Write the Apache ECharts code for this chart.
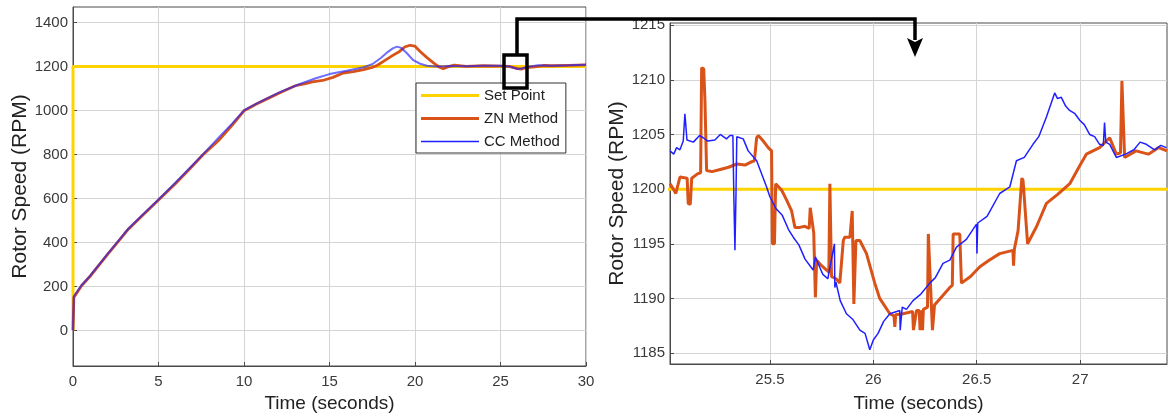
<!DOCTYPE html>
<html>
<head>
<meta charset="utf-8">
<script src="https://cdn.jsdelivr.net/npm/echarts@6/dist/echarts.min.js"></script>
<style>
  html, body { margin: 0; padding: 0; background: #fff; }
  #chart { width: 1168px; height: 419px; }
</style>
</head>
<body>
<div id="chart"></div>
<script>
// ---- data ----
var seriesNames = ['Set Point', 'ZN Method', 'CC Method'];

// full run (left panel)
var setTimeL = [0, 0, 30];
var setSpeedL = [0, 1200, 1200];

var znTimeL = [0, 0.05, 0.5, 1, 2, 3, 3.25, 4, 5, 6, 7, 7.6, 8.5, 9.3, 10, 10.7, 11.5, 12.1, 13, 13.6, 14, 14.6,
    15.2, 15.8, 16.4, 17, 17.5, 17.8, 18.2, 18.7, 19.1, 19.4, 19.7, 20, 20.3, 20.7, 21.1, 21.4, 21.65, 22, 22.3,
    23, 24, 25, 25.5, 26, 26.2, 26.5, 27, 27.5, 28, 29, 30];
var znSpeedL = [0, 150, 203, 246, 343, 438, 461, 518, 593, 668, 748, 798, 862, 932, 998, 1028, 1058, 1080, 1112, 1122, 1130, 1136,
    1150, 1170, 1176, 1185, 1195, 1205, 1225, 1250, 1268, 1288, 1296, 1292, 1268, 1240, 1215, 1198, 1190, 1200, 1206,
    1200, 1203, 1201, 1200, 1190, 1188, 1194, 1198, 1204, 1203, 1205, 1207];

var ccTimeL = [0, 0.05, 0.5, 1, 2, 3, 3.25, 4, 5, 6, 7, 7.6, 8.5, 9.3, 10, 10.7, 11.5, 12.1, 13.3, 14.2, 15, 16, 17,
    17.5, 18, 18.4, 18.7, 18.95, 19.2, 19.5, 19.9, 20.3, 20.7, 21.2, 22, 23, 24, 25, 25.5, 26, 26.3, 26.7, 27.2,
    28, 29, 30];
var ccSpeedL = [0, 155, 205, 248, 345, 440, 463, 520, 595, 672, 752, 800, 875, 940, 1000, 1030, 1060, 1083, 1121, 1146, 1165, 1180, 1196,
    1210, 1238, 1265, 1282, 1290, 1284, 1262, 1228, 1212, 1203, 1200, 1202, 1201, 1203, 1203, 1200, 1188, 1192, 1200, 1205,
    1203, 1205, 1208];

// zoomed window (right panel)
var setTimeR = [25, 27.5];
var setSpeedR = [1200, 1200];

var znTimeR = [25.017, 25.033, 25.045, 25.065, 25.1, 25.105, 25.115, 25.122, 25.15, 25.165, 25.17, 25.18, 25.186, 25.19,
    25.194, 25.22, 25.26, 25.3, 25.34, 25.38, 25.41, 25.425, 25.436, 25.444, 25.468, 25.492, 25.508, 25.512, 25.522,
    25.528, 25.535, 25.557, 25.581, 25.605, 25.621, 25.645, 25.669, 25.69, 25.695, 25.7, 25.712, 25.72, 25.726,
    25.75, 25.774, 25.785, 25.79, 25.798, 25.82, 25.838, 25.855, 25.862, 25.887, 25.898, 25.902, 25.906, 25.91,
    25.916, 25.935, 25.967, 26.007, 26.031, 26.08, 26.1, 26.104, 26.108, 26.144, 26.19, 26.194, 26.209, 26.222,
    26.226, 26.232, 26.238, 26.242, 26.25, 26.262, 26.266, 26.272, 26.286, 26.29, 26.296, 26.305, 26.37, 26.382,
    26.386, 26.418, 26.426, 26.47, 26.515, 26.56, 26.611, 26.675, 26.678, 26.682, 26.7, 26.718, 26.724, 26.746,
    26.79, 26.837, 26.89, 26.95, 27.0, 27.03, 27.094, 27.143, 27.175, 27.195, 27.202, 27.215, 27.27, 27.33, 27.38, 27.42];
var znSpeedR = [1200.5, 1200.0, 1199.6, 1201.1, 1201.0, 1198.7, 1198.6, 1201.0, 1201.4, 1201.5, 1211.1, 1211.0, 1208.1, 1208.0,
    1201.7, 1201.6, 1201.8, 1202.0, 1202.3, 1202.2, 1202.5, 1202.6, 1204.7, 1204.9, 1204.4, 1203.8, 1203.5, 1195.0, 1195.0,
    1200.5, 1200.5, 1199.9, 1199.0, 1198.0, 1196.5, 1196.5, 1196.6, 1196.4, 1198.3, 1198.3, 1196.0, 1190.1, 1193.5,
    1193.0, 1192.6, 1192.4, 1200.5, 1192.0, 1191.8, 1191.4, 1195.3, 1195.6, 1195.6, 1198.0, 1198.0, 1189.5, 1189.5,
    1195.3, 1195.3, 1194.1, 1191.4, 1190.0, 1188.6, 1188.4, 1187.4, 1188.5, 1188.6, 1188.8, 1187.1, 1188.9, 1188.9,
    1187.1, 1188.9, 1187.1, 1189.0, 1189.1, 1189.2, 1195.9, 1195.8, 1187.1, 1187.1, 1189.4, 1189.5, 1191.0, 1191.2,
    1195.9, 1195.9, 1191.4, 1192.0, 1192.9, 1193.5, 1194.1, 1194.4, 1193.0, 1194.5, 1196.2, 1201.0, 1200.8, 1195.0,
    1196.6, 1198.7, 1199.5, 1200.5, 1202.2, 1203.2, 1203.8, 1204.7, 1203.2, 1203.3, 1209.9, 1202.9, 1203.5, 1203.2, 1203.8, 1203.5];

var ccTimeR = [25.017, 25.035, 25.049, 25.065, 25.081, 25.089, 25.092, 25.099, 25.13, 25.16, 25.178, 25.2, 25.234, 25.26,
    25.29, 25.307, 25.321, 25.326, 25.331, 25.336, 25.34, 25.371, 25.395, 25.436, 25.484, 25.5, 25.53, 25.56, 25.59,
    25.613, 25.64, 25.67, 25.709, 25.72, 25.742, 25.756, 25.78, 25.812, 25.814, 25.819, 25.84, 25.87, 25.9, 25.935,
    25.96, 25.983, 26.0, 26.023, 26.05, 26.08, 26.128, 26.13, 26.14, 26.16, 26.192, 26.23, 26.273, 26.3, 26.337,
    26.37, 26.402, 26.45, 26.499, 26.501, 26.505, 26.55, 26.611, 26.66, 26.692, 26.73, 26.772, 26.8, 26.837, 26.877,
    26.89, 26.909, 26.93, 26.949, 26.975, 26.998, 27.02, 27.046, 27.07, 27.094, 27.112, 27.118, 27.124, 27.143,
    27.175, 27.22, 27.26, 27.29, 27.32, 27.36, 27.39, 27.417];
var ccSpeedR = [1203.5, 1203.2, 1203.8, 1203.6, 1204.4, 1206.9, 1206.2, 1204.5, 1204.3, 1204.9, 1204.7, 1204.4, 1204.5, 1205.0,
    1204.6, 1204.9, 1204.9, 1199.0, 1194.4, 1199.5, 1204.8, 1204.6, 1203.5, 1202.6, 1200.2, 1199.3, 1198.2, 1197.6, 1196.3,
    1195.6, 1194.9, 1193.6, 1192.6, 1193.8, 1192.8, 1192.2, 1191.8, 1195.0, 1191.0, 1191.5, 1189.8, 1188.6, 1188.1, 1187.1,
    1186.8, 1185.3, 1186.2, 1186.8, 1187.9, 1188.6, 1188.9, 1187.1, 1189.2, 1189.0, 1189.8, 1190.4, 1191.4, 1191.9, 1193.2,
    1193.5, 1194.7, 1195.4, 1196.8, 1194.1, 1196.9, 1197.5, 1199.6, 1200.2, 1202.6, 1202.9, 1204.1, 1204.8, 1206.6, 1208.8,
    1208.3, 1208.4, 1207.6, 1207.2, 1206.9, 1206.3, 1205.9, 1205.0, 1204.8, 1204.1, 1204.0, 1206.1, 1204.3, 1204.1,
    1202.9, 1203.2, 1203.6, 1204.3, 1204.1, 1203.6, 1204.0, 1203.8];

var leftYTicks = [0, 200, 400, 600, 800, 1000, 1200, 1400];
var rightXTicks = [25.5, 26, 26.5, 27];
var rightYTicks = [1185, 1190, 1195, 1200, 1205, 1210, 1215];

// ---- chart ----
var chart = echarts.init(document.getElementById('chart'));

var colors = ['#FFD200', '#D95319', '#2020FF'];
var fontFamily = '"Liberation Sans", Arial, sans-serif';
var plain = function (v) { return String(v); };

function label(extra) {
    return Object.assign({ color: '#3a3a3a', fontSize: 15, fontFamily: fontFamily, formatter: plain }, extra);
}
function ticks(extra) {
    return Object.assign({ show: true, inside: true, length: 4, lineStyle: { color: '#4a4a4a' } }, extra);
}
function zip(t, v) {
    return t.map(function (x, i) { return [x, v[i]]; });
}

var common = {
    type: 'value',
    nameLocation: 'middle',
    axisLine: { show: true, onZero: false, lineStyle: { color: '#4a4a4a', width: 1 } },
    splitLine: { show: true, lineStyle: { color: '#d4d4d4', width: 1 } }
};

var option = {
    animation: false,
    backgroundColor: '#fff',
    textStyle: { fontFamily: fontFamily },
    grid: [
        { left: 73, top: 7, width: 513, height: 359, show: true, borderColor: '#4a4a4a', borderWidth: 1, backgroundColor: 'transparent' },
        { left: 670, top: 23, width: 497, height: 341, show: true, borderColor: '#4a4a4a', borderWidth: 1, backgroundColor: 'transparent' }
    ],
    xAxis: [
        Object.assign({}, common, {
            gridIndex: 0, min: 0, max: 30, interval: 5,
            name: 'Time (seconds)', nameGap: 28,
            nameTextStyle: { color: '#222', fontSize: 19, fontFamily: fontFamily },
            axisLabel: label({ margin: 8 }),
            axisTick: ticks({})
        }),
        Object.assign({}, common, {
            gridIndex: 1, min: 25.017, max: 27.42,
            name: 'Time (seconds)', nameGap: 30,
            nameTextStyle: { color: '#222', fontSize: 19, fontFamily: fontFamily },
            axisLabel: label({ margin: 8, customValues: rightXTicks }),
            axisTick: ticks({ customValues: rightXTicks })
        })
    ],
    yAxis: [
        Object.assign({}, common, {
            gridIndex: 0, min: -162, max: 1470,
            name: 'Rotor Speed (RPM)', nameGap: 40,
            nameTextStyle: { color: '#222', fontSize: 21, fontFamily: fontFamily },
            axisLabel: label({ margin: 5, customValues: leftYTicks }),
            axisTick: ticks({ customValues: leftYTicks })
        }),
        Object.assign({}, common, {
            gridIndex: 1, min: 1184, max: 1215.2,
            name: 'Rotor Speed (RPM)', nameGap: 39,
            nameTextStyle: { color: '#222', fontSize: 21, fontFamily: fontFamily },
            axisLabel: label({ margin: 5, customValues: rightYTicks }),
            axisTick: ticks({ customValues: rightYTicks })
        })
    ],
    legend: {
        orient: 'vertical',
        left: 416,
        top: 83,
        padding: [5, 6, 4, 5],
        itemWidth: 58,
        itemHeight: 15,
        itemGap: 8,
        borderColor: '#333',
        borderWidth: 1,
        borderRadius: 0,
        backgroundColor: '#fff',
        textStyle: { color: '#222', fontSize: 15, fontFamily: fontFamily },
        data: [
            { name: 'Set Point', icon: 'path://M0,6 H58 V9 H0 Z' },
            { name: 'ZN Method', icon: 'path://M0,6 H58 V9 H0 Z' },
            { name: 'CC Method', icon: 'path://M0,6.8 H58 V8.2 H0 Z' }
        ]
    },
    series: [
        {
            name: seriesNames[0], type: 'line', xAxisIndex: 0, yAxisIndex: 0, symbol: 'none',
            lineStyle: { color: colors[0], width: 3 }, itemStyle: { color: colors[0] },
            data: zip(setTimeL, setSpeedL)
        },
        {
            name: seriesNames[1], type: 'line', xAxisIndex: 0, yAxisIndex: 0, symbol: 'none',
            lineStyle: { color: colors[1], width: 2.8 }, itemStyle: { color: colors[1] },
            data: zip(znTimeL, znSpeedL)
        },
        {
            name: seriesNames[2], type: 'line', xAxisIndex: 0, yAxisIndex: 0, symbol: 'none',
            lineStyle: { color: colors[2], width: 2, opacity: 0.65 }, itemStyle: { color: colors[2] },
            data: zip(ccTimeL, ccSpeedL)
        },
        {
            name: seriesNames[0], type: 'line', xAxisIndex: 1, yAxisIndex: 1, symbol: 'none',
            lineStyle: { color: colors[0], width: 3 }, itemStyle: { color: colors[0] },
            data: zip(setTimeR, setSpeedR)
        },
        {
            name: seriesNames[1], type: 'line', xAxisIndex: 1, yAxisIndex: 1, symbol: 'none',
            lineStyle: { color: colors[1], width: 3 }, itemStyle: { color: colors[1] },
            data: zip(znTimeR, znSpeedR)
        },
        {
            name: seriesNames[2], type: 'line', xAxisIndex: 1, yAxisIndex: 1, symbol: 'none',
            lineStyle: { color: colors[2], width: 1.5 }, itemStyle: { color: colors[2] },
            data: zip(ccTimeR, ccSpeedR)
        }
    ],
    // zoom box and connector arrow
    graphic: [
        { type: 'rect', z: 100, shape: { x: 504, y: 55, width: 23, height: 33 },
          style: { fill: 'none', stroke: '#000', lineWidth: 3.5 } },
        { type: 'polyline', z: 100, shape: { points: [[517, 55], [517, 19], [915, 19], [915, 40]] },
          style: { fill: 'none', stroke: '#000', lineWidth: 3.5 } },
        { type: 'polygon', z: 100, shape: { points: [[907, 38], [915, 42], [923, 38], [915, 57]] },
          style: { fill: '#000' } }
    ]
};

chart.setOption(option);
</script>
</body>
</html>
